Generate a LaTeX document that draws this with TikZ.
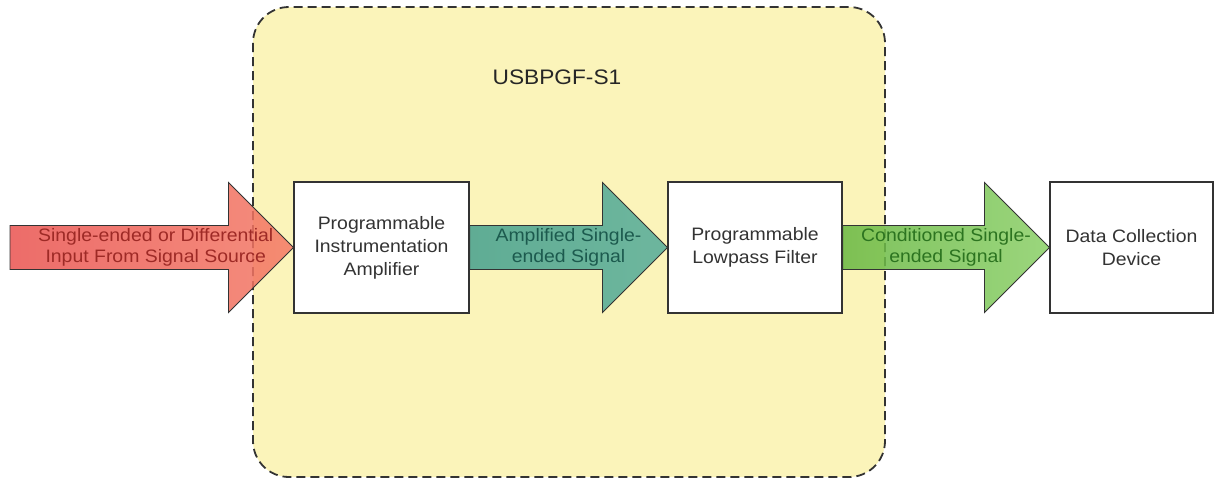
\documentclass[tikz,border=0pt]{standalone}
\usepackage{fontspec}
\newfontfamily\af{Liberation Sans}[FakeStretch=1.08]
\usetikzlibrary{calc}
\definecolor{panel}{HTML}{FBF4BA}
\definecolor{redA}{HTML}{EA5350}
\definecolor{redB}{HTML}{F47A66}
\definecolor{redT}{HTML}{9E2A26}
\definecolor{tealA}{HTML}{45A08E}
\definecolor{tealB}{HTML}{55AC99}
\definecolor{tealT}{HTML}{1C5A4E}
\definecolor{grnA}{HTML}{68B842}
\definecolor{grnB}{HTML}{8ACF66}
\definecolor{grnT}{HTML}{2C7420}
\definecolor{edge}{HTML}{333333}
\tikzset{
  blockbox/.style={draw=edge, line width=1.1pt, fill=white, minimum height=131pt, align=center, inner sep=0pt, font=\af\fontsize{18}{23}\selectfont, text=black!80},
  bigarrow/.style={draw=edge, line width=0.9pt, fill opacity=0.85},
  arrowtext/.style={align=center, font=\af\fontsize{18}{21}\selectfont, inner sep=0pt},
}
\newcommand{\blockarrow}[3]{%
  \path[bigarrow,#3] ($(#1)+(0,-22)$) -- ($(#2)+(-65,-22)$) -- ($(#2)+(-65,-65)$) -- (#2)
    -- ($(#2)+(-65,65)$) -- ($(#2)+(-65,22)$) -- ($(#1)+(0,22)$) -- cycle;}
\begin{document}
\begin{tikzpicture}[x=1pt,y=-1pt]
\fill[white] (0,0) rectangle (1231,483);
\useasboundingbox (0,0) rectangle (1231,483);
% panel
\fill[panel, rounded corners=36pt] (253,7) rectangle (885,477);
\draw[edge, line width=1.8pt, dash pattern=on 9pt off 5pt, rounded corners=36pt] (253,7) rectangle (885,477);
\node[font=\af\fontsize{21}{24}\selectfont, text=black!85] (title) at (557,77) {USBPGF-S1};
% boxes
\node[blockbox, minimum width=175pt] (amp) at (381.5,247.5) {Programmable\\Instrumentation\\Amplifier};
\node[blockbox, minimum width=174pt] (filt) at (755,247.5) {Programmable\\Lowpass Filter};
\node[blockbox, minimum width=163pt] (dev) at (1131.5,247.5) {Data Collection\\Device};
\coordinate (src) at (10,247.5);
% arrows
\blockarrow{src}{amp.west}{left color=redA, right color=redB}
\blockarrow{amp.east}{filt.west}{left color=tealA, right color=tealB}
\blockarrow{filt.east}{dev.west}{left color=grnA, right color=grnB}
% arrow labels
\node[arrowtext, text=redT] (l1) at ($(src)!0.5!(amp.west)+(4,0)$) {Single-ended or Differential\\Input From Signal Source};
\node[arrowtext, text=tealT] (l2) at ($(amp.east)!0.5!(filt.west)$) {Amplified Single-\\ended Signal};
\node[arrowtext, text=grnT] (l3) at ($(filt.east)!0.5!(dev.west)$) {Conditioned Single-\\ended Signal};
\end{tikzpicture}
\end{document}
